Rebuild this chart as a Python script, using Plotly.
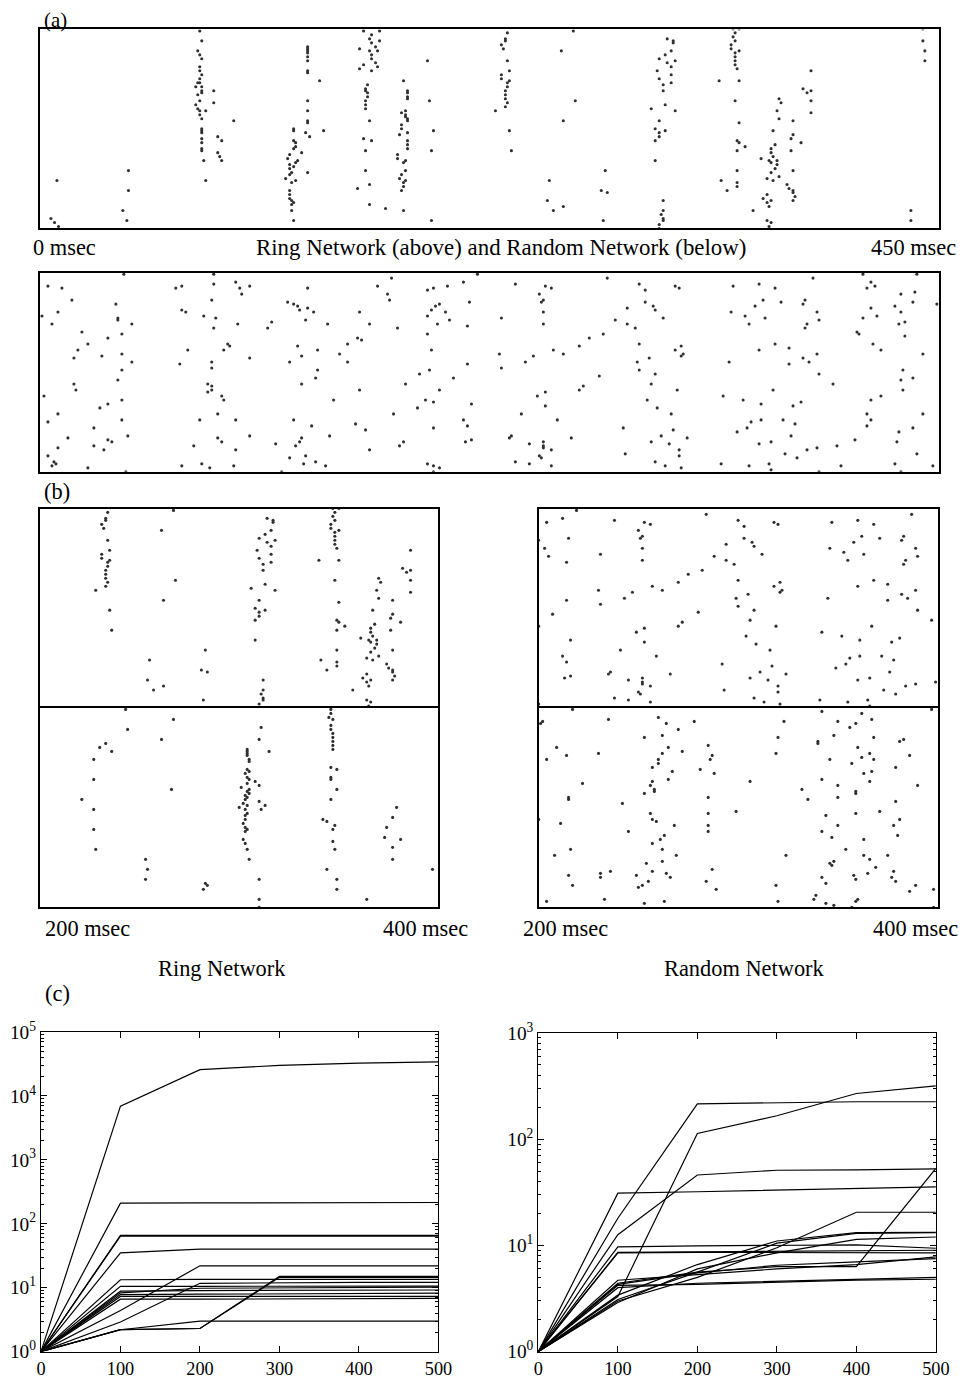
import plotly.graph_objects as go

# figure size in page pixels (slightly larger than the window; overflow is hidden)
WF, HF = 990, 1410
FONT = "Liberation Serif, Times New Roman, serif"

# ---------------- data: spike rasters (time msec, neuron index) ----------------
RING_A = [
    (5.5, 5), (7.3, 3), (9.3, 1), (8.5, 24), (44.3, 29), (44.3, 19), (41.5, 9), (43.5, 4),
    (80, 99), (81, 94), (79, 89), (80, 87), (81, 85), (80, 81), (80, 79), (81, 77), (80, 75), (79, 73),
    (80, 73), (81, 71), (78, 71), (81, 69), (81, 68), (79, 67), (80, 64), (78, 62), (79, 60), (80, 59),
    (80, 57), (81, 55), (81, 50), (81, 49), (81, 48), (81, 45), (81, 43), (81, 40), (81, 39), (82, 34),
    (83, 24), (83, 59), (87, 69), (87, 63), (89, 46), (91, 44), (89, 38), (90, 36), (91, 34), (97, 54),
    (127, 50), (127, 49), (127, 44), (128, 43), (128, 41), (127, 40), (125, 37), (124, 35), (131, 38),
    (129, 34), (128, 33), (125, 32), (125, 30), (127, 31), (126, 28), (123, 25), (125, 27), (128, 24),
    (126, 23), (125, 19), (125, 17), (125, 15), (126, 14), (127, 13), (126, 12), (126, 9), (127, 4),
    (134, 91), (134, 90), (134, 89), (134, 88), (134, 86), (134, 84), (134, 79), (134, 78), (140, 74),
    (134, 64), (134, 59), (134, 54), (134, 53), (133, 48), (135, 46), (134, 28), (142, 49),
    (162, 99), (166, 97), (170, 99), (165, 95), (166, 93), (170, 94), (160, 90), (168, 91), (165, 89),
    (169, 89), (166, 87), (166, 85), (168, 83), (162, 82), (160, 80), (169, 81), (166, 79), (164, 72),
    (163, 70), (163, 69), (164, 68), (164, 66), (163, 64), (163, 62), (163, 60), (165, 54), (162, 45),
    (166, 44), (163, 39), (163, 29), (159, 20), (165, 22), (165, 12), (173, 10),
    (182, 74), (184, 69), (184, 68), (184, 66), (184, 65), (183, 59), (181, 58), (183, 57), (183, 56),
    (184, 55), (184, 54), (181, 52), (181, 50), (184, 48), (180, 47), (184, 44), (184, 42), (184, 40),
    (179, 37), (179, 35), (182, 33), (183, 34), (183, 29), (181, 27), (180, 25), (183, 24), (182, 23),
    (181, 19), (182, 21), (182, 9),
    (194, 84), (195, 64), (197, 49), (196, 39), (196, 4),
    (234, 98), (233, 95), (233, 94), (231, 92), (232, 90), (234, 84), (235, 79), (231, 77), (231, 75),
    (235, 74), (234, 73), (234, 71), (233, 69), (233, 67), (233, 65), (234, 63), (233, 61), (228, 59),
    (235, 49), (236, 39),
    (261, 89), (267, 99), (268, 64), (262, 54), (255, 24), (254, 14), (257, 9), (262, 11), (283, 29),
    (281, 19), (284, 18), (282, 4),
    (314, 95), (317, 94), (317, 93), (313, 87), (316, 89), (310, 85), (314, 83), (318, 84), (316, 81),
    (309, 79), (316, 77), (310, 75), (316, 73), (312, 72), (312, 69), (306, 60), (313, 62), (318, 59),
    (310, 54), (308, 50), (310, 48), (310, 46), (313, 49), (308, 44), (308, 34), (312, 14), (312, 9),
    (312, 5), (312, 4), (311, 7), (310, 2), (310, 0),
    (347, 100), (348, 98), (350, 100), (347, 96), (348, 94), (346, 92), (346, 90), (350, 89), (348, 88),
    (348, 86), (348, 84), (348, 82), (349, 80), (340, 74), (350, 74), (348, 64), (350, 53), (349, 44),
    (350, 43), (353, 41), (349, 39), (349, 29), (349, 23), (349, 21), (341, 24), (344, 19),
    (386, 79), (382, 70), (384, 68), (386, 69), (386, 64), (386, 58), (370, 65), (371, 63), (369, 59),
    (370, 55), (377, 54), (367, 49), (377, 47), (376, 45), (381, 43), (368, 42), (366, 40), (366, 38),
    (367, 36), (361, 35), (365, 34), (366, 33), (369, 34), (369, 32), (368, 30), (376, 39), (366, 28),
    (364, 25), (367, 24), (370, 26), (377, 29), (374, 22), (375, 20), (377, 19), (377, 18), (378, 16),
    (377, 14), (364, 17), (362, 15), (364, 13), (365, 11), (366, 14), (357, 9), (364, 4), (366, 3),
    (365, 1),
    (442, 100), (442, 94), (443, 89), (443, 84), (436, 9), (436, 4),
]

RANDOM_A = [
    (42, 99), (4, 93), (11, 92), (16, 86), (9, 80), (1, 78), (6, 74), (21, 70), (24, 64), (19, 61),
    (17, 57), (38, 84), (39, 77), (39, 76), (46, 74), (41, 69), (34, 67), (31, 58), (41, 59), (41, 51),
    (46, 55), (39, 46), (17, 44), (18, 41), (2, 38), (41, 36), (30, 32), (34, 34), (9, 29), (4, 25),
    (27, 22), (41, 26), (14, 17), (9, 12), (27, 13), (34, 16), (36, 15), (32, 11), (44, 18), (4, 8),
    (7, 5), (8, 4), (6, 3), (24, 2), (43, 0),
    (68, 92), (71, 93), (87, 99), (87, 94), (98, 95), (100, 92), (101, 89), (105, 93), (86, 86),
    (71, 81), (73, 80), (82, 78), (88, 77), (87, 72), (99, 74), (74, 61), (70, 54), (86, 55), (86, 52),
    (94, 64), (95, 63), (92, 61), (105, 57), (84, 44), (86, 43), (84, 40), (86, 41), (91, 38), (92, 36),
    (89, 29), (80, 26), (98, 26), (89, 17), (91, 15), (105, 18), (77, 13), (98, 11), (71, 3), (81, 4),
    (85, 2), (97, 3), (121, 0),
    (114, 72), (116, 75), (124, 85), (127, 84), (129, 83), (130, 81), (134, 92), (134, 82), (137, 80),
    (133, 76), (144, 74), (129, 63), (131, 58), (125, 55), (139, 61), (139, 51), (138, 47), (131, 44),
    (147, 36), (127, 26), (136, 23), (145, 18), (118, 14), (131, 17), (130, 15), (128, 13), (125, 7),
    (133, 8), (132, 4), (138, 5), (143, 3),
    (160, 80), (165, 74), (159, 67), (161, 66), (154, 64), (150, 59), (154, 55), (160, 41), (158, 24),
    (163, 21), (165, 11),
    (169, 93), (176, 97), (174, 89), (175, 86), (179, 72), (194, 91), (197, 92), (204, 93), (212, 95),
    (219, 99), (200, 84), (198, 83), (196, 81), (194, 78), (203, 80), (205, 76), (199, 74), (215, 85),
    (214, 73), (194, 69), (196, 61), (195, 51), (190, 49), (183, 44), (207, 47), (214, 54), (200, 41),
    (193, 36), (197, 35), (189, 32), (216, 34), (177, 29), (212, 26), (214, 23), (197, 22), (213, 15),
    (216, 16), (180, 13), (182, 15), (194, 4), (197, 3), (200, 2), (197, 0),
    (231, 77), (230, 59), (231, 52), (238, 94), (243, 55), (247, 58), (250, 89), (251, 85), (252, 86),
    (253, 93), (256, 92), (252, 80), (252, 74), (257, 61), (262, 59), (249, 38), (253, 40), (253, 33),
    (241, 29), (259, 26), (235, 17), (236, 18), (245, 14), (252, 15), (252, 13), (252, 12), (256, 11),
    (250, 8), (251, 7), (238, 5), (245, 4), (256, 3), (266, 17), (270, 63), (275, 67), (282, 69),
    (270, 41), (272, 43), (280, 48), (284, 97), (288, 76), (294, 82), (294, 74), (298, 72), (292, 22),
    (293, 9), (300, 94), (303, 91), (303, 85), (307, 83), (308, 81), (312, 77), (300, 64), (299, 55),
    (300, 51), (305, 57), (308, 49), (306, 44), (304, 36), (309, 32), (316, 29), (317, 21), (311, 18),
    (315, 14), (306, 15), (324, 17), (320, 11), (320, 8), (321, 2), (308, 5), (313, 3), (318, 93),
    (320, 92), (318, 61), (321, 63), (321, 58), (322, 59), (319, 41), (342, 38), (346, 80), (347, 93),
    (345, 55), (341, 4), (349, 20), (354, 22), (356, 25), (353, 78), (355, 74), (358, 83), (362, 86),
    (360, 94), (363, 77), (368, 92), (360, 61), (368, 64), (367, 41), (352, 36), (361, 34), (361, 26),
    (360, 14), (366, 15), (355, 3), (365, 4), (366, 1), (371, 85), (375, 62), (375, 54), (382, 84),
    (383, 86), (382, 57), (385, 55), (389, 80), (390, 76), (384, 74), (383, 72), (387, 97), (389, 59),
    (390, 49), (397, 44), (377, 33), (381, 35), (372, 26), (378, 24), (376, 18), (373, 9), (379, 7),
    (384, 11), (389, 12), (390, 0), (399, 13), (401, 3), (408, 16), (409, 70), (410, 69), (412, 99),
    (414, 92), (416, 95), (418, 93), (412, 77), (416, 82), (419, 78), (417, 64), (421, 61), (416, 36),
    (421, 38), (414, 29), (416, 26), (414, 23), (428, 83), (431, 89), (431, 80), (430, 74), (433, 75),
    (437, 85), (438, 90), (439, 99), (433, 68), (442, 59), (432, 51), (431, 46), (437, 47), (432, 41),
    (442, 29), (430, 20), (429, 15), (437, 22), (439, 9), (428, 4), (431, 0), (447, 3), (449, 84),
]

RING_B_LOWER = [
    (243, 99), (267, 94), (244, 89), (261, 84), (230, 80), (233, 82), (236, 78), (227, 74), (227, 64),
    (221, 54), (227, 49), (227, 39), (228, 29), (266, 59), (253, 24), (254, 19), (253, 14), (282, 9),
    (283, 12), (284, 11), (310, 4), (310, 0), (310, 14), (305, 24),
    (311, 90), (310, 84), (315, 78), (304, 79), (304, 78), (304, 77), (304, 76), (305, 74), (305, 73),
    (304, 69), (305, 68), (303, 67), (304, 65), (305, 64), (304, 62), (301, 60), (308, 63), (310, 61),
    (305, 59), (304, 58), (305, 57), (303, 56), (304, 55), (303, 54), (302, 52), (304, 51), (300, 50),
    (310, 53), (313, 51), (311, 49), (303, 49), (304, 47), (303, 46), (303, 44), (302, 42), (303, 40),
    (304, 39), (303, 38), (302, 34), (303, 32), (304, 29),
    (346, 99), (346, 97), (345, 95), (347, 94), (346, 91), (346, 89), (347, 87), (347, 85), (347, 83),
    (347, 81), (347, 79), (346, 70), (349, 69), (346, 65), (346, 64), (349, 59), (346, 54), (342, 44),
    (344, 43), (348, 41), (347, 39), (347, 33), (348, 29), (344, 19), (349, 14), (349, 9), (364, 4),
    (379, 50), (377, 45), (374, 40), (373, 35), (381, 34), (377, 30), (377, 24), (397, 19),
]

RANDOM_B_LOWER = [
    (217, 99), (202, 93), (201, 92), (235, 94), (209, 80), (214, 76), (204, 74), (230, 77), (222, 62),
    (215, 54), (215, 55), (200, 44), (211, 42), (216, 29), (208, 26), (215, 16), (217, 11), (204, 3),
    (231, 17), (231, 15), (236, 18), (233, 4), (242, 52), (245, 38), (249, 16), (250, 10), (252, 11),
    (255, 13), (253, 2),
    (260, 95), (264, 92), (270, 89), (262, 86), (253, 85), (265, 80), (262, 77), (260, 74), (260, 72),
    (272, 78), (257, 70), (267, 68), (265, 64), (257, 63), (256, 61), (258, 59), (258, 58), (253, 57),
    (256, 47), (257, 44), (259, 43), (268, 41), (263, 36), (261, 34), (257, 32), (262, 29), (269, 26),
    (262, 23), (254, 22), (257, 18), (264, 17), (266, 15), (263, 3),
    (278, 93), (281, 69), (285, 81), (287, 76), (286, 74), (288, 67), (285, 55), (285, 47), (285, 41),
    (285, 38), (287, 19), (284, 13), (289, 9), (299, 48), (306, 63), (319, 77), (320, 85), (323, 93),
    (324, 26), (319, 11), (320, 3),
    (342, 98), (340, 83), (340, 82), (346, 74), (342, 64), (332, 59), (335, 54), (344, 46), (342, 38),
    (347, 35), (346, 22), (347, 21), (348, 23), (342, 15), (344, 12), (338, 4), (339, 6), (344, 2),
    (348, 1), (348, 86), (350, 93), (356, 90), (359, 92), (362, 97), (367, 94), (368, 85), (360, 80),
    (357, 72), (362, 75), (366, 77), (368, 74), (363, 67), (367, 68), (366, 63), (350, 61), (350, 55),
    (359, 58), (359, 57), (359, 47), (371, 48), (350, 41), (354, 29), (363, 34), (363, 26), (366, 24),
    (369, 20), (358, 16), (359, 14), (365, 17), (359, 3), (360, 4), (357, 0),
    (381, 83), (383, 84), (386, 76), (379, 70), (390, 61), (379, 53), (381, 44), (378, 41), (380, 36),
    (375, 26), (378, 18), (377, 15), (379, 13), (389, 11), (386, 8), (398, 9), (398, 0), (397, 99),
]

# ---------------- data: panel (c) curves ----------------
STEPS = [0, 100, 200, 300, 400, 500]
RING_C = [
    [1, 6900, 25700, 30000, 32500, 34000],
    [1, 210, 212, 213, 214, 215],
    [1, 66, 66, 66, 66, 66],
    [1, 64, 64, 64, 64, 64],
    [1, 35, 40, 40, 40, 40],
    [1, 13.3, 13.5, 13.5, 13.5, 13.5],
    [1, 10.5, 10.5, 10.6, 10.6, 10.6],
    [1, 8.8, 9.0, 9.1, 9.2, 9.2],
    [1, 7.8, 7.9, 8.0, 8.1, 8.2],
    [1, 7.3, 7.3, 7.3, 7.3, 7.3],
    [1, 6.6, 6.6, 6.7, 6.8, 6.8],
    [1, 4.4, 22, 22, 22, 22],
    [1, 2.9, 11.7, 12, 12.1, 12.1],
    [1, 2.2, 3.0, 3.0, 3.0, 3.0],
    [1, 2.2, 2.3, 15, 15, 15],
    [1, 2.2, 2.3, 14.5, 14.5, 14.5],
    [1, 8.3, 9.8, 10, 10, 10.2],
]
RANDOM_C = [
    [1, 31, 32, 33, 34.5, 35.5],
    [1, 18, 215, 220, 225, 225],
    [1, 12.6, 46, 51, 51.5, 52.5],
    [1, 3.3, 113, 166, 269, 318],
    [1, 9.7, 9.9, 10, 10.1, 9.4],
    [1, 8.6, 8.7, 8.8, 8.9, 9.0],
    [1, 8.5, 8.6, 8.6, 8.6, 8.5],
    [1, 4.7, 5.3, 6.0, 6.6, 7.8],
    [1, 4.4, 5.6, 6.3, 6.3, 53],
    [1, 4.2, 4.3, 4.5, 4.7, 4.8],
    [1, 4.0, 4.4, 4.6, 4.8, 5.0],
    [1, 3.4, 6.6, 11, 13.2, 13.3],
    [1, 3.1, 5.6, 10.5, 13.0, 13.2],
    [1, 3.0, 5.0, 9.5, 20.5, 20.5],
    [1, 2.9, 6.0, 8.5, 11.4, 12.0],
    [1, 4.3, 5.5, 6.5, 7.0, 7.5],
]
LOG_TICKS_RING = [1, 10, 100, 1000, 10000, 100000]
LOG_TICKS_RANDOM = [1, 10, 100, 1000]
TIME_TICKS = [0, 100, 200, 300, 400, 500]

# observed page->picture mapping (picture = offset + scale * page)
SX, SY, OX, OY = 0.982, 0.984, 3.0, 12.0
K = (SX + SY) / 2


def PX(x):
    return (x - OX) / SX


def PY(y):
    return (y - OY) / SY


def dom_x(a, b):
    return [PX(a) / WF, PX(b) / WF]


def dom_y(top, bottom):
    return [1 - PY(bottom) / HF, 1 - PY(top) / HF]


fig = go.Figure()

DOT = dict(size=3.1, color="#303030", symbol="circle", line=dict(width=0))


def raster(points, axis_idx, t_lo=None, t_hi=None):
    pts = [p for p in points if (t_lo is None or p[0] >= t_lo) and (t_hi is None or p[0] <= t_hi)]
    sfx = "" if axis_idx == 1 else str(axis_idx)
    fig.add_trace(go.Scatter(
        x=[p[0] for p in pts], y=[p[1] for p in pts], mode="markers",
        marker=DOT, xaxis="x" + sfx, yaxis="y" + sfx, showlegend=False,
        hoverinfo="skip"))


raster(RING_A, 1)
raster(RANDOM_A, 2)
raster(RING_A, 3, 200, 400)
raster(RING_B_LOWER, 4)
raster(RANDOM_A, 5, 200, 400)
raster(RANDOM_B_LOWER, 6)

for series, idx in ((RING_C, 7), (RANDOM_C, 8)):
    for vals in series:
        fig.add_trace(go.Scatter(
            x=STEPS, y=vals, mode="lines", line=dict(color="black", width=1.2),
            xaxis="x" + str(idx), yaxis="y" + str(idx), showlegend=False,
            hoverinfo="skip"))

frame = dict(showline=True, mirror=True, linecolor="black", linewidth=1.5,
             showgrid=False, zeroline=False, ticks="", showticklabels=False,
             fixedrange=True)

layout = dict(
    width=WF, height=HF, autosize=False,
    margin=dict(l=0, r=0, t=0, b=0),
    paper_bgcolor="white", plot_bgcolor="white",
    font=dict(family=FONT, color="black", size=17),
    showlegend=False,
)

raster_axes = {
    1: (dom_x(38, 938), dom_y(28.5, 227.7), [0, 450], False),
    2: (dom_x(38, 938), dom_y(272, 471.3), [0, 450], False),
    3: (dom_x(38, 437), dom_y(508.5, 707.7), [200, 400], True),
    4: (dom_x(38, 437), dom_y(707.7, 907.3), [200, 400], False),
    5: (dom_x(537.3, 936.7), dom_y(508.5, 707.7), [200, 400], True),
    6: (dom_x(537.3, 936.7), dom_y(707.7, 907.3), [200, 400], False),
}
for idx, (dx, dy, xr, upper) in raster_axes.items():
    sfx = "" if idx == 1 else str(idx)
    xa = dict(frame, domain=dx, range=xr, anchor="y" + sfx)
    if upper:
        xa.update(side="top", mirror=False)
    layout["xaxis" + sfx] = xa
    layout["yaxis" + sfx] = dict(frame, domain=dy, range=[0, 99.7], anchor="x" + sfx)


def sup_labels(vals):
    return ["10<sup>%d</sup>" % (len(str(int(v))) - 1) for v in vals]


def minor_vals(top):
    vals = []
    d = 1
    while d < top:
        vals += [d * k for k in range(2, 10)]
        d *= 10
    return vals


c_axes = {
    7: (dom_x(39, 437), dom_y(1032, 1352), LOG_TICKS_RING),
    8: (dom_x(537, 935), dom_y(1033, 1352), LOG_TICKS_RANDOM),
}
for idx, (dx, dy, lt) in c_axes.items():
    sfx = str(idx)
    layout["xaxis" + sfx] = dict(
        domain=dx, range=[0, 500], anchor="y" + sfx, showline=True, mirror="allticks",
        linecolor="black", linewidth=1.2, ticks="inside", ticklen=6, tickwidth=1,
        tickcolor="black", tickmode="array", tickvals=TIME_TICKS,
        ticktext=[str(v) for v in TIME_TICKS], showgrid=False, zeroline=False,
        tickfont=dict(family=FONT, size=18 / K, color="black"), fixedrange=True)
    layout["yaxis" + sfx] = dict(
        domain=dy, type="log", range=[0, len(lt) - 1], anchor="x" + sfx, showline=True,
        mirror="allticks", linecolor="black", linewidth=1.2, ticks="inside", ticklen=6,
        tickwidth=1, tickcolor="black", tickmode="array", tickvals=lt,
        ticktext=sup_labels(lt), showgrid=False, zeroline=False,
        tickfont=dict(family=FONT, size=19 / K, color="black"),
        minor=dict(ticks="inside", ticklen=3, tickcolor="black", tickwidth=1,
                   tickmode="array", tickvals=minor_vals(lt[-1]), showgrid=False),
        fixedrange=True)

TXT = 22 / K


def label(text, x, y, xanchor="left", size=TXT):
    return dict(text=text, x=PX(x) / WF, y=1 - PY(y) / HF, xref="paper", yref="paper",
                xanchor=xanchor, yanchor="middle", showarrow=False,
                font=dict(family=FONT, size=size, color="black"))


layout["annotations"] = [
    label("(a)", 40, 19, "left", 20.5 / K),
    label("0 msec", 29, 247),
    label("Ring Network (above) and Random Network (below)", 500, 247, "center", 22.5 / K),
    label("450 msec", 957, 247, "right"),
    label("(b)", 40, 491),
    label("200 msec", 41, 928),
    label("400 msec", 379, 928),
    label("200 msec", 520, 928),
    label("400 msec", 870, 928),
    label("Ring Network", 220, 968, "center"),
    label("Random Network", 743, 968, "center"),
    label("(c)", 41, 994),
]

fig.update_layout(**layout)

PIN = ("var gd=document.getElementById('{plot_id}');"
       "document.documentElement.style.margin='0';"
       "document.documentElement.style.overflow='hidden';"
       "document.body.style.margin='0';document.body.style.padding='0';"
       "document.body.style.overflow='hidden';"
       "gd.style.position='absolute';gd.style.left='0px';gd.style.top='0px';")

fig.write_html("out.html", post_script=PIN, config={"displayModeBar": False})
